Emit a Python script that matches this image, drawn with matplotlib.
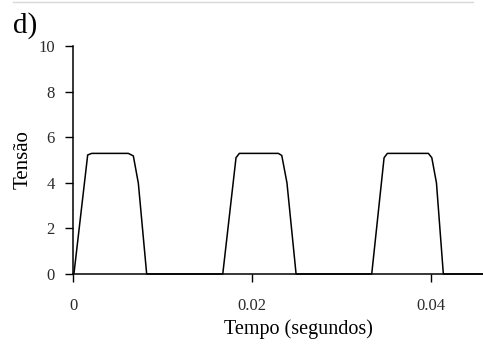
import matplotlib
matplotlib.use("Agg")
import matplotlib.pyplot as plot
from matplotlib.lines import Line2D

plot.rcParams['font.family'] = ['Liberation Serif', 'DejaVu Serif']

# waveform (time in s, voltage)
tempo = [0.0, 0.00011, 0.00164, 0.00209, 0.00618, 0.00674, 0.0073, 0.00823,
         0.01673, 0.01821, 0.01858, 0.02294, 0.02332, 0.0239, 0.02492,
         0.03337, 0.03475, 0.03512, 0.0397, 0.04008, 0.0406, 0.04137,
         0.0458]
tensao = [0.0, 0.03, 5.22, 5.29, 5.29, 5.18, 3.98, 0.0,
          0.0, 5.1, 5.29, 5.29, 5.2, 4.0, 0.0,
          0.0, 5.1, 5.29, 5.29, 5.1, 4.0, 0.0,
          0.0]

x_ticks = [0, 0.02, 0.04]
x_labels = ["0", "0.02", "0.04"]
y_ticks = [0, 2, 4, 6, 8, 10]

figure = plot.figure(figsize=(4.83, 3.45), dpi=100)
axis = figure.add_axes([73 / 483, 71 / 345, 410 / 483, 228 / 345])

axis.plot(tempo, tensao, color="black", linewidth=1.1, clip_on=False)

axis.set_xlim(0, 0.0458)
axis.set_ylim(0, 10)
axis.set_xticks(x_ticks)
axis.set_xticklabels(x_labels)
axis.set_yticks(y_ticks)

for side in ["top", "right"]:
    axis.spines[side].set_visible(False)
for side in ["left", "bottom"]:
    axis.spines[side].set_linewidth(1.1)

axis.tick_params(axis="both", direction="out", length=6, width=1.0,
                 labelsize=12, labelcolor="#2a2a2a")
axis.tick_params(axis="x", pad=11)
axis.tick_params(axis="y", pad=7)

axis.set_xlabel("Tempo (segundos)", fontsize=14.5)
axis.xaxis.set_label_coords(0.55, -0.20)
axis.set_ylabel("Tensão", fontsize=15, va="center")
axis.yaxis.set_label_coords(-0.122, 0.5)

figure.text(13 / 483, (345 - 33) / 345, "d)", fontsize=21, va="baseline")
figure.add_artist(Line2D([13 / 483, 473 / 483], [343 / 345, 343 / 345],
                         color="#d8d8d8", linewidth=1.0))

figure.savefig("out.png", dpi=100)
